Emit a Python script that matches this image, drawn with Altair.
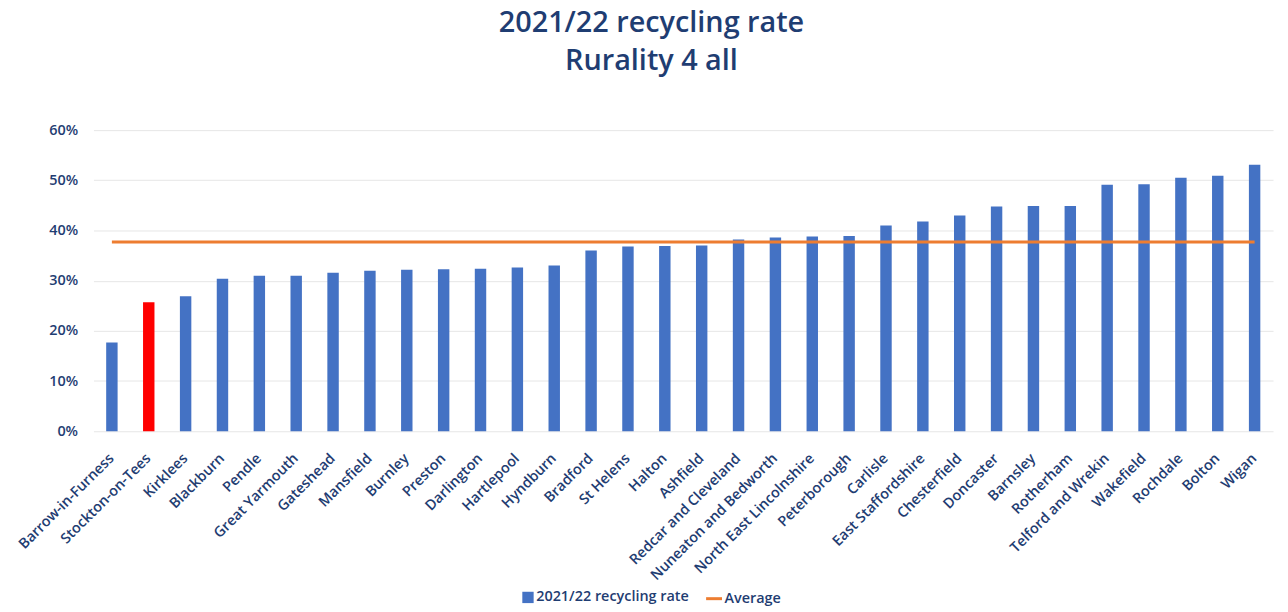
import altair as alt
import pandas as pd

names = [
    "Barrow-in-Furness", "Stockton-on-Tees", "Kirklees", "Blackburn", "Pendle",
    "Great Yarmouth", "Gateshead", "Mansfield", "Burnley", "Preston",
    "Darlington", "Hartlepool", "Hyndburn", "Bradford", "St Helens",
    "Halton", "Ashfield", "Redcar and Cleveland", "Nuneaton and Bedworth",
    "North East Lincolnshire", "Peterborough", "Carlisle", "East Staffordshire",
    "Chesterfield", "Doncaster", "Barnsley", "Rotherham", "Telford and Wrekin",
    "Wakefield", "Rochdale", "Bolton", "Wigan",
]
rates = [
    17.7, 25.7, 26.9, 30.4, 31.0,
    31.0, 31.6, 32.0, 32.2, 32.3,
    32.4, 32.6, 33.0, 36.0, 36.8,
    36.9, 37.0, 38.2, 38.6,
    38.8, 38.9, 41.0, 41.8,
    43.0, 44.8, 44.9, 44.9, 49.1,
    49.2, 50.5, 50.9, 53.1,
]
average = 37.7
highlight = "Stockton-on-Tees"
series_name = "2021/22 recycling rate"
avg_name = "Average"
y_ticks = [0, 0.1, 0.2, 0.3, 0.4, 0.5, 0.6]

bars_df = pd.DataFrame({
    "name": names,
    "rate": [r / 100 for r in rates],
    "series": ["Highlight" if n == highlight else series_name for n in names],
})
avg_df = pd.DataFrame({
    "name": names,
    "avg": [average / 100] * len(names),
    "series": [avg_name] * len(names),
})

navy = "#1F3D72"
blue = "#4472C4"
red = "#FF0000"
orange = "#ED7D31"
font = "Open Sans"
lab_size = 14.5

x_enc = alt.X(
    "name:N", sort=names, title=None,
    scale=alt.Scale(paddingInner=0.69, paddingOuter=0.345),
    axis=alt.Axis(labelAngle=-45, labelAlign="right", labelBaseline="middle",
                  labelPadding=25, domain=False, ticks=False,
                  labelFont=font, labelFontSize=14.5, labelFontWeight=600,
                  labelColor=navy, labelOverlap=False),
)

bars = alt.Chart(bars_df).mark_bar().encode(
    x=x_enc,
    y=alt.Y("rate:Q", title=None,
            scale=alt.Scale(domain=[0, 0.6]),
            axis=alt.Axis(format=".0%", values=y_ticks, grid=True, domain=False,
                          ticks=False, labelPadding=16, gridColor="#E6E6E6",
                          labelFont=font, labelFontSize=lab_size, labelFontWeight=600,
                          labelColor=navy)),
    color=alt.Color("series:N",
                    scale=alt.Scale(domain=[series_name, "Highlight"], range=[blue, red]),
                    legend=alt.Legend(title=None, values=[series_name], orient="none",
                                      legendX=430, legendY=463, symbolType="square",
                                      symbolSize=130, labelOffset=1, padding=0,
                                      labelFont=font, labelFontSize=lab_size,
                                      labelFontWeight=600, labelColor=navy)),
)

line = alt.Chart(avg_df).mark_line(strokeWidth=3).encode(
    x=alt.X("name:N", sort=names),
    y=alt.Y("avg:Q"),
    stroke=alt.Stroke("series:N",
                      scale=alt.Scale(domain=[avg_name], range=[orange]),
                      legend=alt.Legend(title=None, orient="none", legendX=615,
                                        legendY=462, symbolType="stroke",
                                        symbolSize=256, symbolStrokeWidth=3,
                                        labelOffset=1, padding=0,
                                        labelFont=font, labelFontSize=lab_size,
                                        labelFontWeight=600, labelColor=navy)),
)

chart = alt.layer(bars, line).properties(
    width=1187,
    height=303,
    title=alt.TitleParams(
        ["2021/22 recycling rate", "Rurality 4 all"],
        fontSize=29, font=font, fontWeight=600, color=navy,
        lineHeight=39, anchor="middle", dx=-32, offset=46,
    ),
    autosize=alt.AutoSizeParams(type="none"),
    padding={"left": 86, "top": 121, "right": 7, "bottom": 176},
).configure_view(stroke=None)

chart.save("out.html", embed_options={"renderer": "svg", "actions": False})
